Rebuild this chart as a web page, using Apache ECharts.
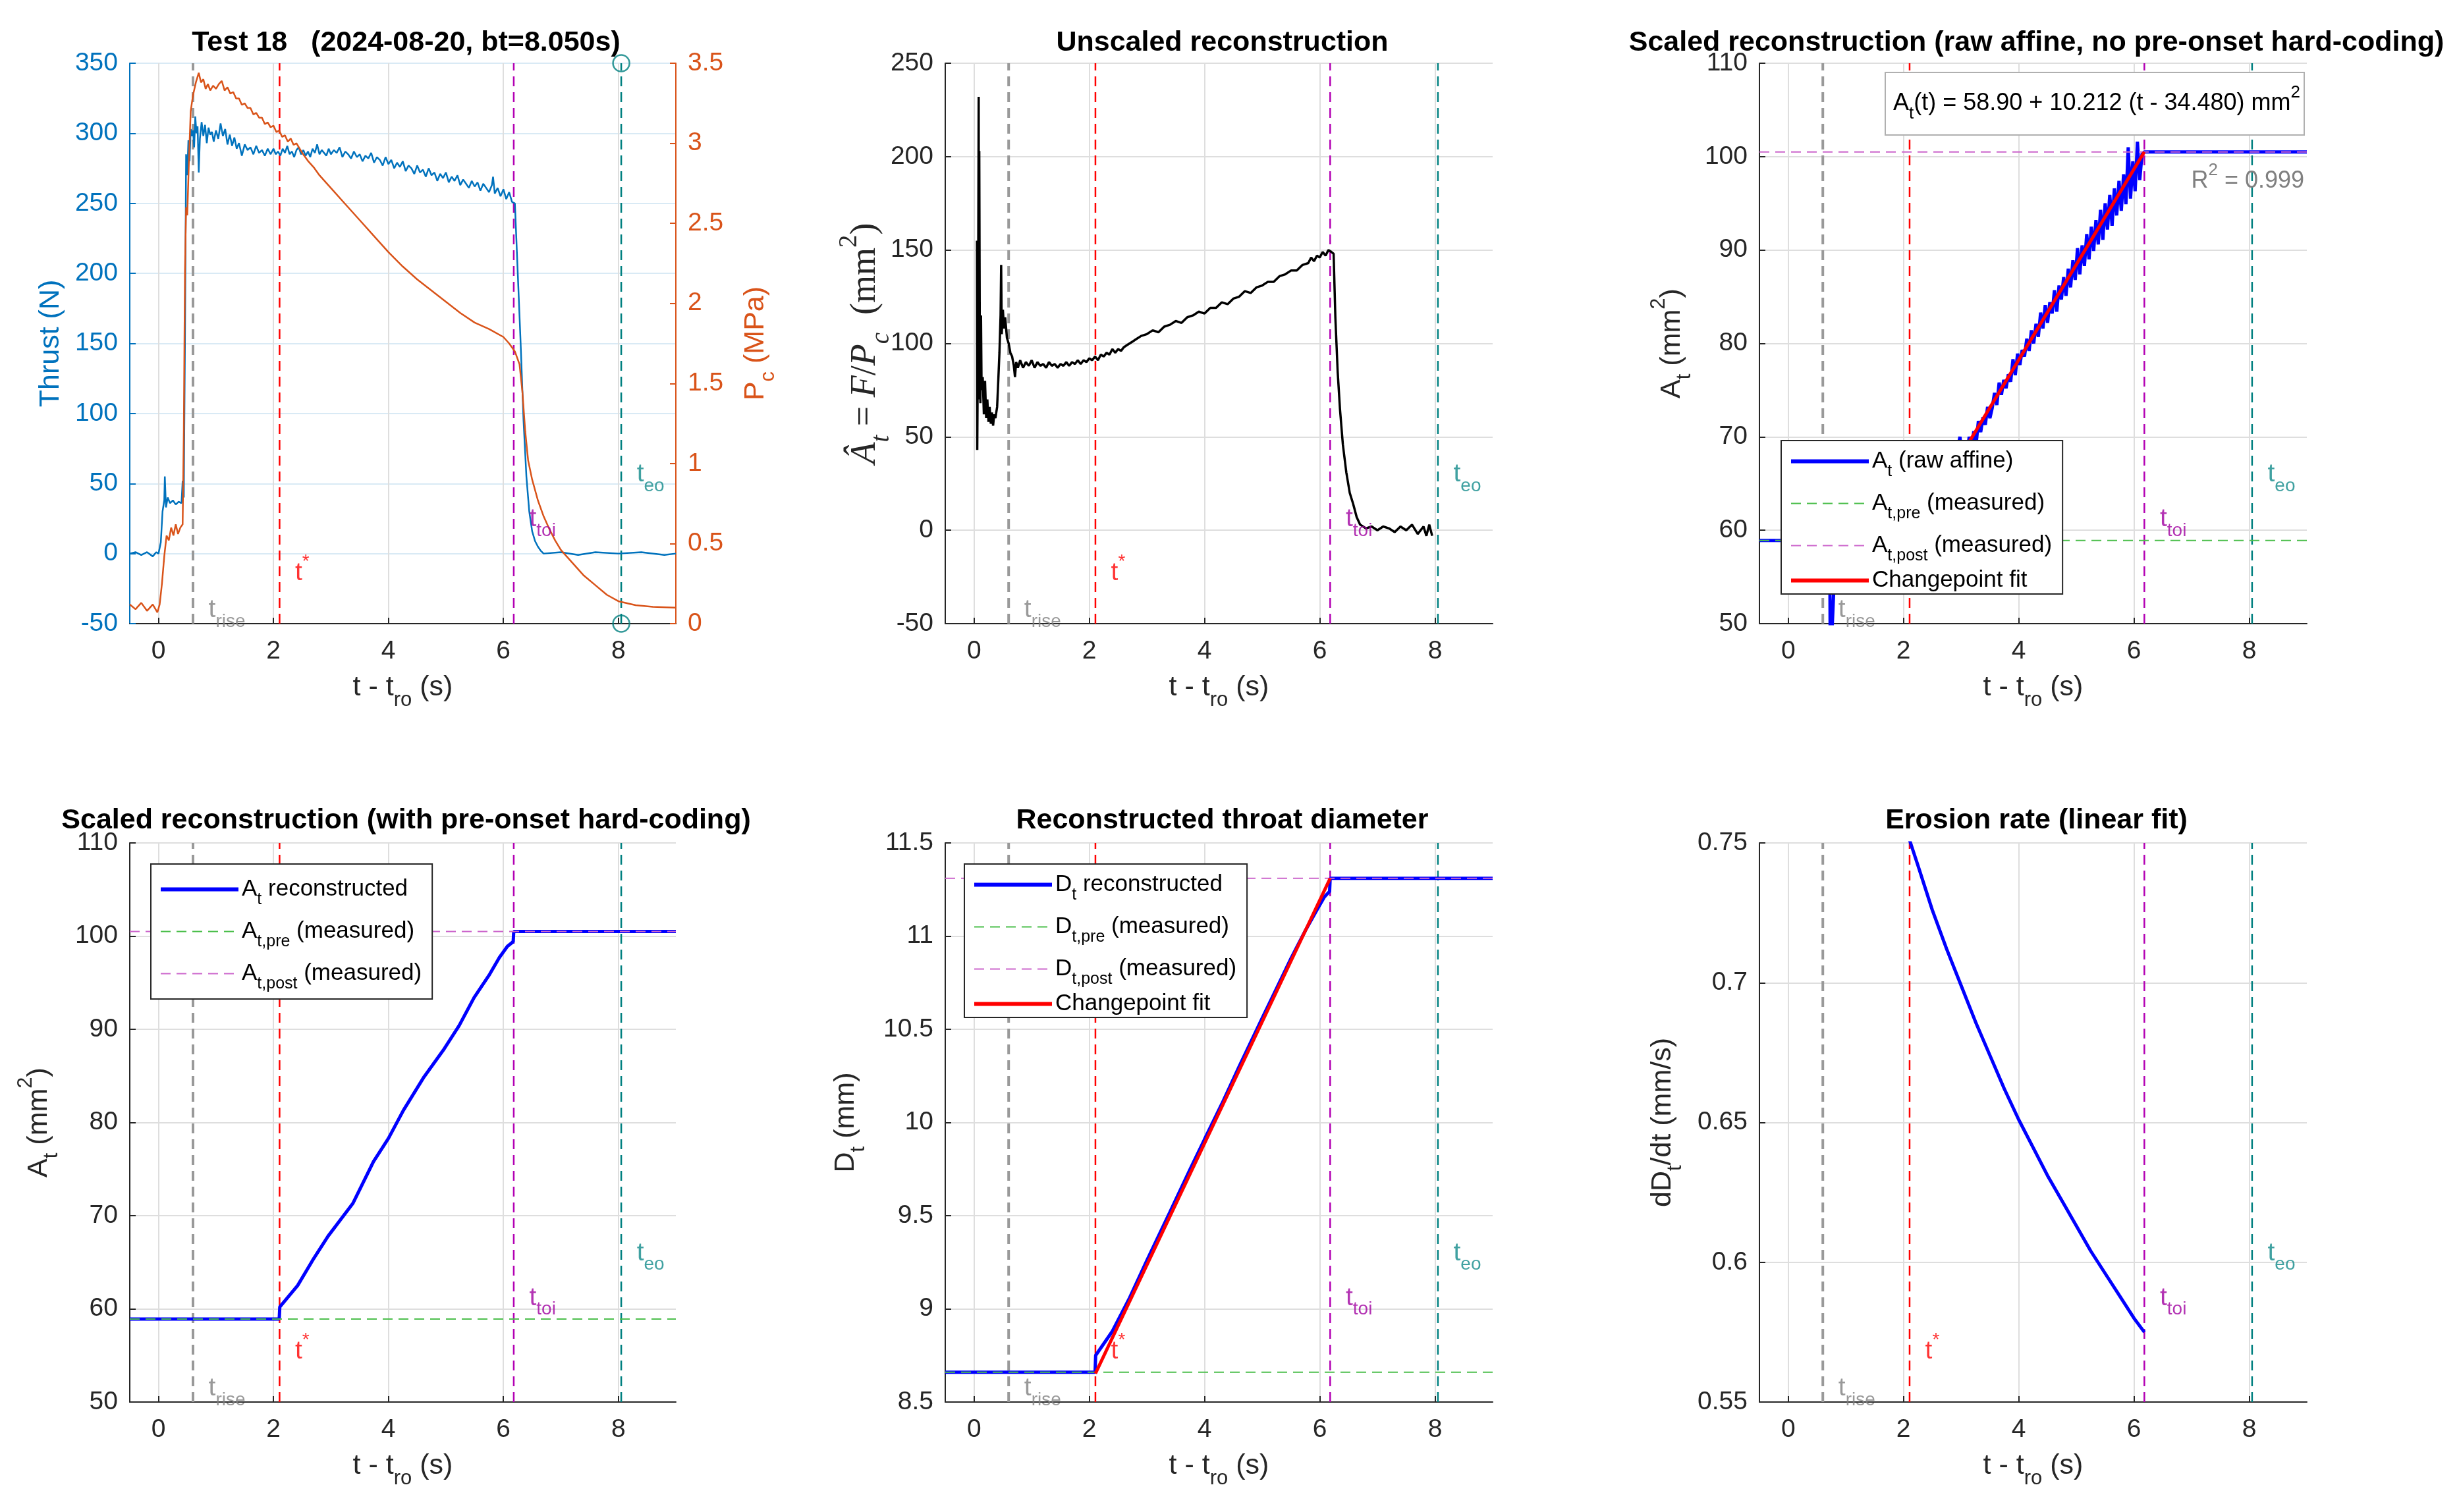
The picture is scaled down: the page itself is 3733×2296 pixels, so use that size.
<!DOCTYPE html>
<html>
<head>
<meta charset="utf-8">
<title>Test 18 throat reconstruction</title>
<script src="https://cdn.jsdelivr.net/npm/echarts@6/dist/echarts.min.js"></script>
<style>
  html, body { margin: 0; padding: 0; background: #fff; }
  #chart { width: 3733px; height: 2296px; }
</style>
</head>
<body>
<div id="chart"></div>
<script>
// ---- values ----
const xTicks = [0, 2, 4, 6, 8];
const tRise = 0.6, tStar = 2.106, tToi = 6.18, tEo = 8.05;
const aPre = 58.9, aPost = 100.5;
const dPre = 8.66, dPost = 11.31;

// thrust (N) vs t - t_ro
const thrust = [
  [-0.50, 0], [-0.40, 1], [-0.30, -1], [-0.20, 1], [-0.10, -2], [-0.04, 1], [0.00, 0], [0.04, 8],
  [0.07, 30], [0.10, 38], [0.11, 55], [0.13, 33], [0.16, 40], [0.20, 36], [0.25, 38], [0.30, 35],
  [0.35, 37], [0.40, 36], [0.42, 52], [0.44, 40], [0.46, 150], [0.48, 285], [0.50, 270], [0.52, 295],
  [0.54, 280], [0.56, 303], [0.58, 298], [0.60, 302], [0.62, 290], [0.64, 312], [0.66, 300], [0.68, 305],
  [0.70, 272], [0.72, 296], [0.75, 308], [0.78, 298], [0.81, 306], [0.84, 293], [0.87, 304], [0.90, 299],
  [0.93, 301], [0.96, 294], [1.00, 302], [1.04, 296], [1.08, 307], [1.12, 298], [1.16, 303], [1.20, 292],
  [1.24, 299], [1.28, 291], [1.32, 297], [1.36, 289], [1.40, 293], [1.45, 284], [1.50, 292], [1.55, 288],
  [1.60, 290], [1.65, 285], [1.70, 291], [1.75, 286], [1.80, 288], [1.85, 284], [1.90, 289], [1.95, 285],
  [2.00, 289], [2.04, 285], [2.08, 287], [2.12, 284], [2.16, 289], [2.20, 286], [2.24, 291], [2.28, 285],
  [2.32, 287], [2.36, 283], [2.40, 288], [2.44, 290], [2.48, 285], [2.52, 288], [2.56, 284], [2.60, 287],
  [2.64, 283], [2.68, 289], [2.72, 286], [2.76, 292], [2.80, 285], [2.84, 288], [2.88, 286], [2.92, 284],
  [2.96, 289], [3.00, 285], [3.05, 288], [3.10, 286], [3.15, 290], [3.20, 283], [3.25, 287], [3.30, 285],
  [3.35, 282], [3.40, 287], [3.45, 283], [3.50, 285], [3.55, 280], [3.60, 284], [3.65, 282], [3.70, 286],
  [3.75, 279], [3.80, 283], [3.85, 281], [3.90, 277], [3.95, 283], [4.00, 278], [4.05, 281], [4.10, 275],
  [4.15, 279], [4.20, 276], [4.25, 280], [4.30, 273], [4.35, 277], [4.40, 275], [4.45, 271], [4.50, 277],
  [4.55, 272], [4.60, 274], [4.65, 269], [4.70, 275], [4.75, 270], [4.80, 272], [4.85, 266], [4.90, 271],
  [4.95, 268], [5.00, 272], [5.05, 265], [5.10, 269], [5.15, 266], [5.20, 270], [5.25, 263], [5.30, 267],
  [5.35, 264], [5.40, 261], [5.45, 266], [5.50, 262], [5.55, 265], [5.60, 259], [5.65, 264], [5.70, 261],
  [5.75, 258], [5.80, 263], [5.82, 269], [5.85, 257], [5.90, 261], [5.95, 255], [6.00, 260], [6.05, 253],
  [6.10, 258], [6.15, 251], [6.20, 250], [6.25, 200], [6.30, 150], [6.35, 95], [6.40, 55], [6.45, 30],
  [6.50, 16], [6.55, 9], [6.60, 5], [6.65, 2], [6.70, 0], [7.00, 1], [7.30, -1], [7.60, 1],
  [8.00, 0], [8.40, 1], [8.80, -1], [9.00, 0]
];

// chamber pressure (MPa)
const pc = [
  [-0.50, 0.12], [-0.40, 0.09], [-0.30, 0.13], [-0.20, 0.08], [-0.10, 0.12], [-0.02, 0.07], [0.02, 0.12],
  [0.06, 0.25], [0.10, 0.42], [0.14, 0.55], [0.18, 0.52], [0.22, 0.60], [0.26, 0.55], [0.30, 0.62],
  [0.34, 0.56], [0.38, 0.60], [0.42, 0.62], [0.44, 1.20], [0.46, 2.20], [0.48, 2.60], [0.50, 2.55],
  [0.53, 2.90], [0.56, 3.20], [0.60, 3.30], [0.65, 3.38], [0.70, 3.44], [0.74, 3.38], [0.78, 3.40],
  [0.82, 3.34], [0.86, 3.37], [0.90, 3.33], [0.95, 3.36], [1.00, 3.34], [1.05, 3.37], [1.10, 3.39],
  [1.15, 3.33], [1.20, 3.35], [1.25, 3.31], [1.30, 3.32], [1.35, 3.28], [1.40, 3.28], [1.45, 3.24],
  [1.50, 3.25], [1.55, 3.22], [1.60, 3.22], [1.65, 3.18], [1.70, 3.19], [1.75, 3.16], [1.80, 3.16],
  [1.85, 3.12], [1.90, 3.13], [1.95, 3.10], [2.00, 3.11], [2.05, 3.07], [2.10, 3.08], [2.15, 3.04],
  [2.20, 3.05], [2.25, 3.01], [2.30, 3.03], [2.35, 2.99], [2.40, 3.00], [2.45, 2.97], [2.50, 2.94],
  [2.60, 2.89], [2.70, 2.85], [2.80, 2.80], [3.00, 2.72], [3.25, 2.62], [3.50, 2.52], [3.75, 2.42],
  [4.00, 2.32], [4.25, 2.23], [4.50, 2.15], [4.75, 2.08], [5.00, 2.01], [5.25, 1.94], [5.50, 1.88],
  [5.75, 1.84], [6.00, 1.79], [6.10, 1.75], [6.20, 1.70], [6.28, 1.62], [6.33, 1.45], [6.38, 1.20],
  [6.43, 1.02], [6.50, 0.90], [6.60, 0.77], [6.70, 0.67], [6.80, 0.59], [6.90, 0.52], [7.00, 0.46],
  [7.20, 0.38], [7.40, 0.30], [7.60, 0.24], [7.80, 0.18], [8.00, 0.14], [8.30, 0.115], [8.60, 0.105],
  [9.00, 0.10]
];

// unscaled reconstruction F/Pc (mm^2)
const unscaled = [
  [0.05, 155], [0.055, 43], [0.07, 120], [0.08, 232], [0.085, 70], [0.09, 203], [0.10, 90], [0.11, 68],
  [0.12, 115], [0.13, 75], [0.15, 82], [0.17, 62], [0.19, 80], [0.21, 60], [0.23, 70], [0.25, 58],
  [0.27, 66], [0.29, 57], [0.31, 63], [0.33, 56], [0.35, 62], [0.37, 60], [0.40, 66], [0.42, 80],
  [0.44, 95], [0.46, 115], [0.47, 142], [0.48, 105], [0.50, 118], [0.52, 108], [0.54, 114], [0.57, 103],
  [0.60, 100], [0.63, 95], [0.66, 93], [0.69, 88], [0.71, 82], [0.73, 90], [0.76, 87], [0.80, 91],
  [0.85, 87], [0.90, 90], [0.95, 88], [1.00, 91], [1.05, 87], [1.10, 90], [1.15, 88], [1.20, 89],
  [1.25, 87], [1.30, 90], [1.35, 88], [1.40, 89], [1.45, 87], [1.50, 89], [1.55, 88], [1.60, 90],
  [1.65, 88], [1.70, 90], [1.75, 89], [1.80, 91], [1.85, 89], [1.90, 91], [1.95, 90], [2.00, 92],
  [2.05, 91], [2.10, 93], [2.15, 91], [2.20, 94], [2.25, 93], [2.30, 95], [2.35, 94], [2.40, 97],
  [2.45, 95], [2.50, 97], [2.55, 96], [2.60, 98], [2.65, 99], [2.70, 100], [2.75, 101], [2.80, 102],
  [2.90, 104], [3.00, 105], [3.10, 107], [3.20, 106], [3.30, 109], [3.40, 110], [3.50, 112], [3.60, 111],
  [3.70, 114], [3.80, 115], [3.90, 117], [4.00, 116], [4.10, 119], [4.20, 119], [4.30, 122], [4.40, 121],
  [4.50, 124], [4.60, 125], [4.70, 128], [4.80, 127], [4.90, 130], [5.00, 131], [5.10, 133], [5.20, 133],
  [5.30, 136], [5.40, 137], [5.50, 139], [5.60, 139], [5.70, 142], [5.80, 143], [5.85, 146], [5.90, 144],
  [5.95, 147], [6.00, 146], [6.05, 149], [6.10, 147], [6.15, 150], [6.20, 149], [6.24, 148], [6.27, 114],
  [6.31, 85], [6.35, 65], [6.40, 46], [6.46, 31], [6.52, 20], [6.58, 14], [6.64, 7], [6.70, 3],
  [6.80, 1], [6.90, 2], [7.00, 0], [7.10, 2], [7.20, 1], [7.30, -1], [7.40, 2], [7.50, 0],
  [7.60, 3], [7.70, -2], [7.80, 2], [7.85, -3], [7.90, 3], [7.95, -3]
];

// scaled reconstruction, raw affine (mm^2)
const rawAffine = [
  [-0.50, 58.9], [0.72, 58.9], [0.73, 45], [0.80, 55], [1.00, 60], [1.50, 61], [2.00, 61.8], [2.50, 64],
  [2.90, 67.5], [2.98, 70.0], [3.02, 67.5], [3.06, 68.4], [3.10, 67.8], [3.14, 70.0], [3.18, 68.7],
  [3.22, 70.6], [3.26, 69.2], [3.30, 71.7], [3.34, 70.5], [3.38, 72.1], [3.42, 71.3], [3.46, 73.2],
  [3.50, 72.0], [3.54, 73.1], [3.58, 74.7], [3.62, 73.4], [3.66, 75.8], [3.70, 74.5], [3.74, 76.1],
  [3.78, 75.2], [3.82, 76.7], [3.86, 75.9], [3.90, 78.3], [3.94, 76.6], [3.98, 78.9], [4.02, 77.7],
  [4.06, 79.3], [4.10, 78.6], [4.14, 80.5], [4.18, 79.2], [4.22, 81.4], [4.26, 80.0], [4.30, 82.1],
  [4.34, 80.7], [4.38, 83.3], [4.42, 81.6], [4.46, 84.1], [4.50, 82.2], [4.54, 84.4], [4.58, 83.2],
  [4.62, 85.7], [4.66, 83.4], [4.70, 86.2], [4.74, 84.7], [4.78, 87.1], [4.82, 85.1], [4.86, 88.0],
  [4.90, 86.0], [4.94, 88.9], [4.98, 86.8], [5.02, 90.2], [5.06, 87.4], [5.10, 90.5], [5.14, 88.3],
  [5.18, 91.7], [5.22, 89.0], [5.26, 92.5], [5.30, 89.9], [5.34, 93.2], [5.38, 90.6], [5.42, 94.3],
  [5.46, 91.1], [5.50, 95.0], [5.54, 92.2], [5.58, 95.9], [5.62, 92.6], [5.66, 96.6], [5.70, 93.7],
  [5.74, 97.4], [5.78, 94.2], [5.82, 98.1], [5.86, 94.9], [5.90, 101.0], [5.94, 95.5], [5.98, 99.5],
  [6.02, 96.3], [6.06, 101.6], [6.10, 97.5], [6.14, 100.3], [6.18, 100.5], [9.00, 100.5]
];
const fitA = [[tStar, 58.9], [tToi, 100.5]];

// scaled reconstruction with pre-onset hard-coding (mm^2)
const aRecon = [
  [-0.50, 58.9], [2.10, 58.9], [2.11, 60.2], [2.42, 62.5], [2.68, 65.2], [2.95, 67.8], [3.38, 71.3],
  [3.74, 75.8], [4.00, 78.3], [4.26, 81.3], [4.62, 84.9], [4.97, 87.9], [5.23, 90.4], [5.49, 93.4],
  [5.76, 95.9], [5.93, 97.7], [6.07, 98.9], [6.17, 99.4], [6.18, 100.5], [9.00, 100.5]
];

// reconstructed throat diameter (mm)
const dRecon = [
  [-0.50, 8.66], [2.10, 8.66], [2.11, 8.75], [2.40, 8.88], [2.70, 9.06], [3.00, 9.26], [3.40, 9.52],
  [3.75, 9.75], [4.00, 9.91], [4.30, 10.10], [4.60, 10.30], [5.00, 10.56], [5.25, 10.72], [5.50, 10.88],
  [5.75, 11.03], [5.95, 11.14], [6.08, 11.21], [6.17, 11.24], [6.18, 11.31], [9.00, 11.31]
];
const fitD = [[tStar, 8.653], [tToi, 11.31]];

// erosion rate (mm/s)
const erosion = [
  [2.106, 0.751], [2.25, 0.742], [2.50, 0.726], [2.75, 0.712], [3.00, 0.699], [3.25, 0.686],
  [3.50, 0.674], [3.75, 0.662], [4.00, 0.651], [4.25, 0.641], [4.50, 0.631], [4.75, 0.622],
  [5.00, 0.613], [5.25, 0.604], [5.50, 0.596], [5.75, 0.588], [6.00, 0.580], [6.18, 0.575]
];

const titles = [
  'Test 18   (2024-08-20, bt=8.050s)',
  'Unscaled reconstruction',
  'Scaled reconstruction (raw affine, no pre-onset hard-coding)',
  'Scaled reconstruction (with pre-onset hard-coding)',
  'Reconstructed throat diameter',
  'Erosion rate (linear fit)'
];

// ---- styling ----
const SANS = '"Liberation Sans", Arial, Helvetica, sans-serif';
const SERIF = '"Liberation Serif", "Times New Roman", serif';
const INK = '#262626';
const GRIDC = '#dedede';
const BLUE = '#0072BD', ORANGE = '#D95319';
const C_RISE = '#999999', C_STAR = '#ff0000', C_TOI = '#b300b3', C_EO = '#008080';
const C_PRE = '#4dbf4d', C_POST = '#cc66cc';
const DASH = [15, 9];

// panel boxes in px: left, top, width, height
const panels = [
  [197, 96, 829, 851], [1435, 96, 831, 851], [2671, 96, 831, 851],
  [197, 1280, 829, 849], [1435, 1280, 831, 849], [2671, 1280, 831, 849]
];

// rich text styles: n = normal, b = subscript, p = superscript
function rich(f, color, fam, colorKey) {
  const s = Math.round(f * 0.72), pad = Math.round(f * 0.9);
  const k = colorKey || 'color';
  const mk = o => { o[k] = color; o.fontFamily = fam; o.lineHeight = s + pad; return o; };
  return {
    n: mk({ fontSize: f, verticalAlign: 'middle' }),
    b: mk({ fontSize: s, verticalAlign: 'bottom', padding: [pad, 0, 0, 0] }),
    p: mk({ fontSize: s, verticalAlign: 'top', padding: [0, 0, pad, 0] })
  };
}
function richTex(f, color) {
  const r = rich(f, color, SERIF);
  r.i = Object.assign({}, r.n, { fontStyle: 'italic' });
  r.bi = Object.assign({}, r.b, { fontStyle: 'italic' });
  return r;
}

const XNAME = '{n|t - t}{b|ro}{n| (s)}';

const grids = panels.map(p => ({ left: p[0], top: p[1], width: p[2], height: p[3], containLabel: false, outerBoundsMode: 'none' }));

const xAxes = panels.map((p, i) => ({
  type: 'value', gridIndex: i, min: -0.5, max: 9,
  name: XNAME, nameLocation: 'middle', nameGap: 62, nameMoveOverlap: false,
  nameTextStyle: { rich: rich(43, INK, SANS) },
  axisLine: { show: true, onZero: false, lineStyle: { color: INK, width: 2 } },
  axisTick: { show: true, inside: true, length: 9, customValues: xTicks, lineStyle: { color: INK, width: 2 } },
  axisLabel: { customValues: xTicks, margin: 23, fontSize: 39, color: INK, fontFamily: SANS },
  splitLine: { show: true, lineStyle: { color: GRIDC, width: 2 } }
}));

function yAxis(gi, min, max, step, name, gap, color, richStyle, opts) {
  return Object.assign({
    type: 'value', gridIndex: gi, min: min, max: max, interval: step,
    name: name, nameLocation: 'middle', nameGap: gap, nameRotate: 90, nameMoveOverlap: false,
    nameTextStyle: { rich: richStyle },
    axisLine: { show: true, onZero: false, lineStyle: { color: color, width: 2 } },
    axisTick: { show: true, inside: true, length: 9, lineStyle: { color: color, width: 2 } },
    axisLabel: { margin: 18, fontSize: 39, color: color, fontFamily: SANS },
    splitLine: { show: true, lineStyle: { color: GRIDC, width: 2 } }
  }, opts || {});
}

const yAxes = [
  yAxis(0, -50, 350, 50, '{n|Thrust (N)}', 85, BLUE, rich(43, BLUE, SANS),
    { splitLine: { show: true, lineStyle: { color: 'rgba(0,114,189,0.15)', width: 2 } } }),
  yAxis(0, 0, 3.5, 0.5, '{n|P}{b|c}{n| (MPa)}', 86, ORANGE, rich(43, ORANGE, SANS),
    { position: 'right', splitLine: { show: false } }),
  yAxis(1, -50, 250, 50, '{i|Â}{bi|t}{n| = }{i|F}{n|/}{i|P}{bi|c}{n|  (mm}{p|2}{n|)}', 77, INK, richTex(54, INK)),
  yAxis(2, 50, 110, 10, '{n|A}{b|t}{n| (mm}{p|2}{n|)}', 98, INK, rich(43, INK, SANS)),
  yAxis(3, 50, 110, 10, '{n|A}{b|t}{n| (mm}{p|2}{n|)}', 103, INK, rich(43, INK, SANS)),
  yAxis(4, 8.5, 11.5, 0.5, '{n|D}{b|t}{n| (mm)}', 116, INK, rich(43, INK, SANS)),
  yAxis(5, 0.55, 0.75, 0.05, '{n|dD}{b|t}{n|/dt (mm/s)}', 112, INK, rich(43, INK, SANS))
];

// y-axis index and range for each panel (panel 0 markers use the left axis)
const panelY = [[0, -50, 350], [2, -50, 250], [3, 50, 110], [4, 50, 110], [5, 8.5, 11.5], [6, 0.55, 0.75]];

const series = [];
function line(gi, yi, name, data, color, width, dash, z) {
  series.push({
    type: 'line', name: name, xAxisIndex: gi, yAxisIndex: yi, data: data,
    symbol: 'none', showSymbol: false, silent: true, animation: false, z: z || 2,
    lineStyle: { color: color, width: width, type: dash || 'solid' },
    itemStyle: { color: color }
  });
}

// event markers and their text labels in every panel
const markers = [
  { t: tRise, color: C_RISE, width: 4, frac: 0.024, text: '{n|t}{b|rise}', txt: '#808080' },
  { t: tStar, color: C_STAR, width: 2.5, frac: 0.09, text: '{n|t}{p|*}', txt: '#ff0000' },
  { t: tToi, color: C_TOI, width: 2.5, frac: 0.186, text: '{n|t}{b|toi}', txt: '#a000a0' },
  { t: tEo, color: C_EO, width: 2.5, frac: 0.266, text: '{n|t}{b|eo}', txt: '#108a8a' }
];
panelY.forEach((py, gi) => {
  const yi = py[0], lo = py[1], hi = py[2];
  markers.forEach(m => {
    line(gi, yi, undefined, [[m.t, lo], [m.t, hi]], m.color, m.width, DASH, 1);
    series.push({
      type: 'scatter', xAxisIndex: gi, yAxisIndex: yi, silent: true, symbolSize: 0, z: 3,
      data: [[m.t + 0.27, lo + m.frac * (hi - lo)]],
      label: { show: true, position: 'right', distance: 0, formatter: m.text, rich: rich(39, m.txt, SANS) }
    });
  });
});

// panel 1: thrust and chamber pressure
line(0, 0, 'thrust', thrust, BLUE, 2.5, null, 2);
line(0, 1, 'pc', pc, ORANGE, 2.5, null, 3);
series.push({
  type: 'scatter', xAxisIndex: 0, yAxisIndex: 0, silent: true, clip: false, z: 3,
  data: [[tEo, 350], [tEo, -50]], symbol: 'circle', symbolSize: 25,
  itemStyle: { color: 'rgba(255,255,255,0)', borderColor: C_EO, borderWidth: 2.5 }
});

// panel 2
line(1, 2, 'unscaled', unscaled, '#000000', 3.5, null, 2);

// panel 3
line(2, 3, 'raw3', rawAffine, '#0000ff', 5, null, 2);
line(2, 3, 'pre3', [[-0.5, aPre], [9, aPre]], C_PRE, 2, DASH, 2);
line(2, 3, 'post3', [[-0.5, aPost], [9, aPost]], C_POST, 2, DASH, 2);
line(2, 3, 'fit3', fitA, '#ff0000', 5, null, 3);

// panel 4
line(3, 4, 'rec4', aRecon, '#0000ff', 5, null, 2);
line(3, 4, 'pre4', [[-0.5, aPre], [9, aPre]], C_PRE, 2, DASH, 3);
line(3, 4, 'post4', [[-0.5, aPost], [9, aPost]], C_POST, 2, DASH, 3);

// panel 5
line(4, 5, 'rec5', dRecon, '#0000ff', 5, null, 2);
line(4, 5, 'pre5', [[-0.5, dPre], [9, dPre]], C_PRE, 2, DASH, 3);
line(4, 5, 'post5', [[-0.5, dPost], [9, dPost]], C_POST, 2, DASH, 3);
line(4, 5, 'fit5', fitD, '#ff0000', 5, null, 3);

// panel 6
line(5, 6, 'rate', erosion, '#0000ff', 5, null, 3);

const legendText = {
  raw3: '{n|A}{b|t}{n| (raw affine)}',
  pre3: '{n|A}{b|t,pre}{n| (measured)}',
  post3: '{n|A}{b|t,post}{n| (measured)}',
  fit3: '{n|Changepoint fit}',
  rec4: '{n|A}{b|t}{n| reconstructed}',
  pre4: '{n|A}{b|t,pre}{n| (measured)}',
  post4: '{n|A}{b|t,post}{n| (measured)}',
  rec5: '{n|D}{b|t}{n| reconstructed}',
  pre5: '{n|D}{b|t,pre}{n| (measured)}',
  post5: '{n|D}{b|t,post}{n| (measured)}',
  fit5: '{n|Changepoint fit}'
};
const legendWidth = { raw3: 6, fit3: 6, rec4: 6, rec5: 6, fit5: 6 };
function legend(names, left, top, padV) {
  return {
    data: names.map(n => ({ name: n, lineStyle: { width: legendWidth[n] || 2 } })),
    orient: 'vertical', left: left, top: top, selectedMode: false, z: 20,
    itemWidth: 118, itemHeight: 14, itemGap: 7, padding: [padV, 16, padV, 12],
    backgroundColor: '#ffffff', borderColor: INK, borderWidth: 2, borderRadius: 0,
    itemStyle: { opacity: 0 },
    formatter: n => legendText[n],
    textStyle: { rich: rich(35, '#000000', SANS) }
  };
}

const option = {
  animation: false,
  backgroundColor: '#ffffff',
  title: panels.map((p, i) => ({
    text: titles[i], left: p[0] + p[2] / 2, top: i < 3 ? 39 : 1220, textAlign: 'center',
    textStyle: { fontSize: 43, fontWeight: 'bold', color: '#000000', fontFamily: SANS }
  })),
  legend: [
    legend(['raw3', 'pre3', 'post3', 'fit3'], 2704, 669, 3),
    legend(['rec4', 'pre4', 'post4'], 229, 1312, 10),
    legend(['rec5', 'pre5', 'post5', 'fit5'], 1464, 1312, 3)
  ],
  grid: grids,
  xAxis: xAxes,
  yAxis: yAxes,
  series: series,
  graphic: [
    {
      type: 'rect', z: 10,
      shape: { x: 2862, y: 110, width: 636, height: 95 },
      style: { fill: '#ffffff', stroke: '#b0b0b0', lineWidth: 2 }
    },
    {
      type: 'text', z: 11, x: 2874, y: 157,
      style: {
        text: '{n|A}{b|t}{n|(t) = 58.90 + 10.212 (t - 34.480) mm}{p|2}',
        rich: rich(36, '#000000', SANS, 'fill'), align: 'left', verticalAlign: 'middle'
      }
    },
    {
      type: 'text', z: 11, x: 3498, y: 275,
      style: {
        text: '{n|R}{p|2}{n| = 0.999}',
        rich: rich(36, '#808080', SANS, 'fill'), align: 'right', verticalAlign: 'middle'
      }
    }
  ]
};

const chart = echarts.init(document.getElementById('chart'), null, { renderer: 'canvas' });
chart.setOption(option);
</script>
</body>
</html>
